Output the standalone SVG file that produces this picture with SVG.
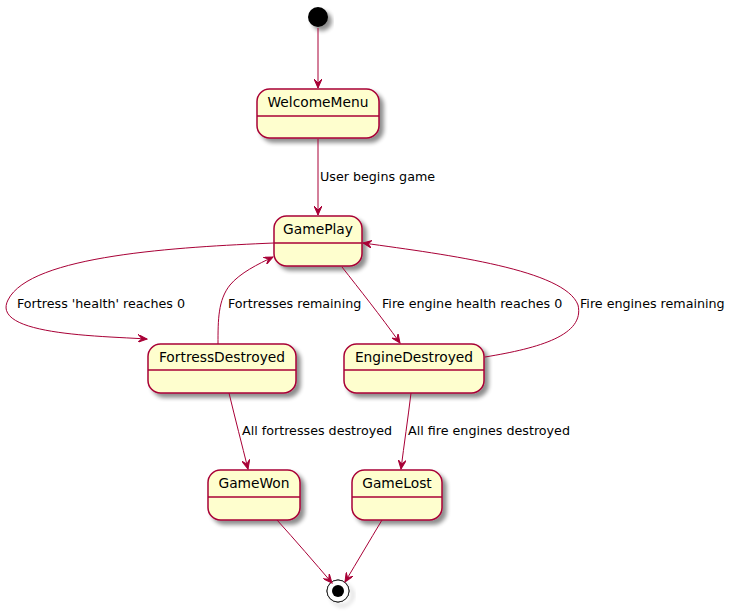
<svg xmlns="http://www.w3.org/2000/svg" width="735" height="611" viewBox="0 0 735 611">
<defs>
<filter id="sh" x="-20%" y="-20%" width="150%" height="160%">
<feGaussianBlur in="SourceAlpha" stdDeviation="2"/>
<feOffset dx="4" dy="4" result="b"/>
<feComponentTransfer><feFuncA type="linear" slope="0.45"/></feComponentTransfer>
<feMerge><feMergeNode/><feMergeNode in="SourceGraphic"/></feMerge>
</filter>
<marker id="ah" viewBox="0 0 10 8" refX="9" refY="4" markerWidth="10" markerHeight="8" markerUnits="userSpaceOnUse" orient="auto">
<path d="M0,0 L9,4 L0,8 L4,4 Z" fill="#A80036" stroke="#A80036" stroke-width="1"/>
</marker>
</defs>
<style>
.st rect{fill:#FEFECE;stroke:#A80036;stroke-width:1.5}
.st line{stroke:#A80036;stroke-width:1.5}
.st text{font-family:"DejaVu Sans",sans-serif;font-size:13.8px;fill:#000;text-anchor:middle}
.cn path{fill:none;stroke:#A80036;stroke-width:1;marker-end:url(#ah)}
.lb{font-family:"DejaVu Sans",sans-serif;font-size:12.7px;fill:#000}
</style>
<g id="start"><circle cx="318" cy="17" r="10" fill="#000" filter="url(#sh)"/></g>
<g id="WelcomeMenu" class="st"><rect x="257" y="89" width="122" height="49" rx="12.5" filter="url(#sh)"/><line x1="257" y1="116" x2="379" y2="116"/><text x="318" y="107">WelcomeMenu</text></g>
<g id="GamePlay" class="st"><rect x="274" y="216" width="88" height="50" rx="12.5" filter="url(#sh)"/><line x1="274" y1="243" x2="362" y2="243"/><text x="318" y="234">GamePlay</text></g>
<g id="FortressDestroyed" class="st"><rect x="148" y="344" width="148" height="49" rx="12.5" filter="url(#sh)"/><line x1="148" y1="370" x2="296" y2="370"/><text x="222" y="362">FortressDestroyed</text></g>
<g id="EngineDestroyed" class="st"><rect x="344" y="344" width="140" height="49" rx="12.5" filter="url(#sh)"/><line x1="344" y1="370" x2="484" y2="370"/><text x="414" y="362">EngineDestroyed</text></g>
<g id="GameWon" class="st"><rect x="208" y="470" width="92" height="50" rx="12.5" filter="url(#sh)"/><line x1="208" y1="497" x2="300" y2="497"/><text x="254" y="488">GameWon</text></g>
<g id="GameLost" class="st"><rect x="352" y="470" width="90" height="50" rx="12.5" filter="url(#sh)"/><line x1="352" y1="497" x2="442" y2="497"/><text x="397" y="488">GameLost</text></g>
<g id="end"><circle cx="338" cy="591" r="11" fill="none" stroke="#000" stroke-width="1" filter="url(#sh)"/><circle cx="338" cy="591" r="11" fill="#fff" stroke="#222" stroke-width="1"/><circle cx="338" cy="591" r="6" fill="#000"/></g>
<g id="connectors" class="cn">
<path d="M318,28 L318,88"/>
<path d="M318,139 L318,215"/>
<path d="M274,243 C180,247 30,255 8,300 C-10,335 100,336 147,339"/>
<path d="M218,344 C218,320 218,300 230,285 C240,273 258,264 273,257"/>
<path d="M342,267 C360,290 380,315 400,343"/>
<path d="M485,357 C540,348 585,335 578,305 C565,270 450,255 363,243"/>
<path d="M229,393 C235,418 242,445 248,469"/>
<path d="M411,393 C408,418 404,445 401,469"/>
<path d="M277,520 C295,540 315,563 332,583"/>
<path d="M382,520 C370,540 357,562 345,582"/>
</g>
<g id="labels">
<text class="lb" x="17" y="308">Fortress 'health' reaches 0</text>
<text class="lb" x="320" y="181">User begins game</text>
<text class="lb" x="228" y="308">Fortresses remaining</text>
<text class="lb" x="382" y="308">Fire engine health reaches 0</text>
<text class="lb" x="580" y="308">Fire engines remaining</text>
<text class="lb" x="242" y="435">All fortresses destroyed</text>
<text class="lb" x="408" y="435">All fire engines destroyed</text>
</g>
</svg>
